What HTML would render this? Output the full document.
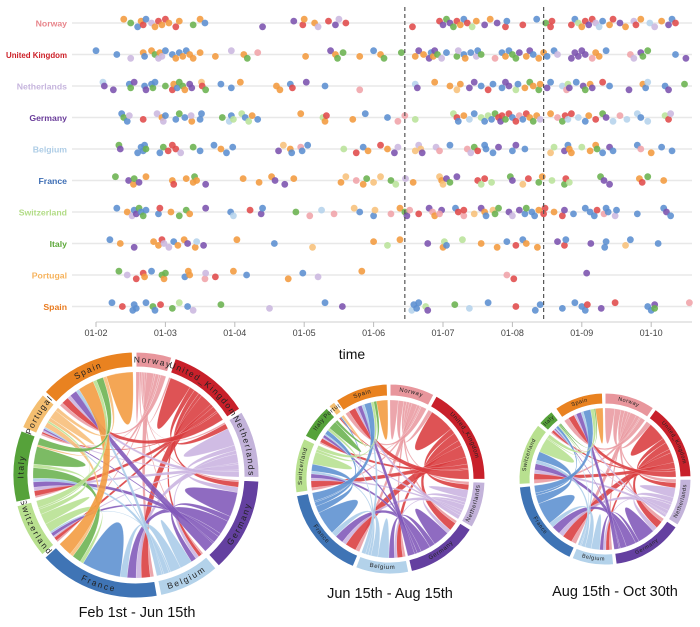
<!DOCTYPE html>
<html><head><meta charset="utf-8">
<style>
html,body{margin:0;padding:0;background:#fff;}
svg{display:block;font-family:"Liberation Sans",sans-serif;}
</style></head>
<body>
<svg id="fig" width="700" height="627" viewBox="0 0 700 627">
  <g id="strip"></g>
  <g id="chords"></g>
</svg>
<script>
const NS = "http://www.w3.org/2000/svg";
const countries = ["Norway","United Kingdom","Netherlands","Germany","Belgium","France","Switzerland","Italy","Portugal","Spain"];
const ringLabels = ["Norway","United_Kingdom","Netherlands","Germany","Belgium","France","Switzerland","Italy","Portugal","Spain"];
const labelColors = ["#e8868c","#cc1f27","#c6b5dd","#6a3d9a","#aecde6","#3c6db4","#b2dc86","#5da83a","#f6b35d","#e87a1e"];
const ringColors = ["#e8969c","#c8202a","#c3b3da","#6440a0","#b3d2ea","#3f74b5","#b8e08f","#56a23a","#f4be70","#e98220"];
const ribbonColors = ["#e99aa0","#d93b3e","#c9b3e0","#7f56b8","#a8cbe8","#5b8fd0","#b6e08f","#6ab24e","#f7bd78","#f29a3e"];
const dotColors = ["#f0a3a8","#e04a4a","#cbb7df","#7b52ae","#b5d3ec","#5b8ed0","#b9e29a","#6ab24e","#f7c07a","#f29a3e"];
const tickMonths = [2,3,4,5,6,7,8,9,10];
const tickLabels = ["01-02","01-03","01-04","01-05","01-06","01-07","01-08","01-09","01-10"];
const splitMonths = [6.45, 8.45];
const norwayPts = [[2.4,9],[2.5,7],[2.6,5],[2.65,9],[2.68,1],[2.72,5],[2.8,2],[2.85,9],[2.9,1],[2.95,9],[3.0,1],[3.05,9],[3.15,1],[3.2,9],[3.4,7],[3.5,9],[3.57,5],[4.4,3],[4.85,3],[4.98,1],[5.0,9],[5.15,9],[5.2,2],[5.35,1],[5.45,3],[5.5,2],[5.6,1],[6.56,1],[6.95,1],[7.0,3],[7.05,7],[7.1,3],[7.15,7],[7.2,1],[7.25,9],[7.3,5],[7.35,1],[7.42,6],[7.48,9],[7.6,3],[7.68,9],[7.78,3],[7.9,1],[7.92,5],[8.15,1],[8.35,5],[8.48,7],[8.55,1],[8.57,1],[8.85,1],[8.9,5],[8.95,6],[9.0,9],[9.05,1],[9.1,3],[9.15,1],[9.2,2],[9.25,4],[9.3,5],[9.4,9],[9.45,1],[9.55,3],[9.63,9],[9.75,2],[9.78,1],[9.85,9],[9.98,4],[10.05,2],[10.15,9],[10.25,3],[10.3,5],[10.35,1]];
const ukPts = [[2.0,5],[2.3,5],[2.5,2],[2.68,9],[2.7,5],[2.8,9],[2.85,7],[2.9,2],[2.92,9],[2.95,2],[3.0,5],[3.1,5],[3.15,9],[3.2,5],[3.25,9],[3.3,5],[3.35,9],[3.4,9],[3.5,9],[3.72,9],[3.95,2],[4.13,9],[4.18,7],[4.33,0],[5.02,9],[5.38,3],[5.45,9],[5.48,7],[5.56,7],[5.8,9],[6.0,5],[6.1,9],[6.15,7],[6.4,7],[6.6,9],[6.65,3],[6.72,9],[6.8,3],[6.83,5],[6.86,9],[6.88,3],[6.92,7],[6.98,2],[7.05,5],[7.2,7],[7.22,2],[7.3,5],[7.32,9],[7.4,5],[7.48,2],[7.5,5],[7.55,7],[7.75,0],[7.85,5],[7.9,9],[7.95,5],[8.0,7],[8.05,7],[8.1,3],[8.2,9],[8.25,3],[8.3,5],[8.38,9],[8.45,9],[8.5,5],[8.6,5],[8.65,2],[8.85,3],[8.9,3],[8.95,3],[9.0,3],[9.05,3],[9.15,0],[9.2,9],[9.25,9],[9.35,5],[9.7,0],[9.75,2],[9.85,3],[9.88,7],[9.95,7],[10.35,5],[10.5,3]];
const nlPts = [[2.1,4],[2.12,3],[2.25,3],[2.48,5],[2.5,7],[2.55,3],[2.7,5],[2.72,3],[2.8,5],[2.82,7],[2.85,5],[3.0,7],[3.1,1],[3.12,9],[3.17,5],[3.2,7],[3.25,7],[3.28,9],[3.35,3],[3.38,3],[3.52,8],[3.53,1],[3.58,7],[3.8,5],[3.95,5],[4.08,9],[4.6,9],[4.65,9],[4.8,5],[4.83,1],[5.03,3],[5.3,5],[5.8,0],[6.6,4],[6.63,3],[6.88,9],[7.1,9],[7.2,8],[7.25,9],[7.38,3],[7.45,3],[7.55,5],[7.65,1],[7.72,5],[7.85,5],[7.9,3],[7.95,3],[8.05,6],[8.08,5],[8.18,9],[8.25,7],[8.3,9],[8.38,7],[8.4,9],[8.5,3],[8.55,5],[8.72,4],[8.78,0],[8.8,6],[8.82,3],[8.92,5],[9.02,3],[9.05,7],[9.12,9],[9.15,3],[9.3,1],[9.4,5],[9.68,3],[9.88,9],[9.92,5],[9.95,4],[10.2,5],[10.25,3],[10.48,7]];
const dePts = [[2.37,5],[2.4,7],[2.45,5],[2.48,2],[2.68,1],[2.88,2],[2.95,9],[2.97,2],[3.0,5],[3.15,5],[3.2,7],[3.28,5],[3.38,9],[3.37,2],[3.5,5],[3.52,5],[3.82,7],[3.92,4],[3.95,5],[3.98,6],[4.1,6],[4.15,5],[4.2,6],[4.25,9],[4.33,5],[4.95,9],[5.27,6],[5.3,9],[5.32,1],[5.7,9],[5.88,5],[6.2,5],[6.35,0],[6.45,0],[6.6,6],[7.15,6],[7.2,1],[7.22,5],[7.3,9],[7.38,4],[7.45,5],[7.55,6],[7.6,5],[7.65,6],[7.7,5],[7.75,7],[7.8,1],[7.83,3],[7.85,1],[7.9,7],[7.95,1],[8.0,5],[8.05,1],[8.1,0],[8.15,5],[8.2,1],[8.25,9],[8.3,7],[8.35,9],[8.4,2],[8.55,9],[8.65,0],[8.72,7],[8.76,1],[8.8,4],[8.85,1],[8.95,4],[9.05,5],[9.1,9],[9.2,1],[9.3,7],[9.35,3],[9.45,4],[9.55,0],[9.65,4],[9.8,4],[9.85,5],[9.95,4],[10.2,6],[10.25,1],[10.28,2]];
const bePts = [[2.33,7],[2.35,3],[2.6,5],[2.65,5],[2.68,5],[2.7,5],[2.72,7],[2.92,5],[2.97,7],[3.04,1],[3.1,1],[3.15,1],[3.22,2],[3.4,7],[3.5,5],[3.7,5],[3.8,9],[3.88,5],[3.97,5],[4.63,3],[4.7,8],[4.8,9],[4.82,5],[4.95,0],[4.97,5],[5.05,5],[5.57,6],[5.75,1],[5.85,5],[5.92,9],[6.1,1],[6.2,9],[6.3,3],[6.35,2],[6.6,8],[6.65,2],[6.68,8],[6.7,3],[6.9,2],[6.95,0],[7.1,5],[7.35,0],[7.4,2],[7.45,7],[7.5,1],[7.6,5],[7.62,5],[7.72,5],[7.8,3],[8.0,5],[8.05,3],[8.18,5],[8.55,8],[8.6,6],[8.75,3],[8.8,5],[8.82,9],[8.85,9],[9.0,6],[9.12,9],[9.2,9],[9.22,7],[9.3,5],[9.4,3],[9.45,5],[9.8,5],[9.85,0],[10.0,9],[10.15,5],[10.3,5]];
const frPts = [[2.28,7],[2.47,3],[2.54,9],[2.55,7],[2.62,3],[2.72,9],[3.1,9],[3.12,1],[3.3,9],[3.4,9],[3.42,7],[3.45,9],[3.58,3],[4.12,9],[4.35,9],[4.53,9],[4.58,3],[4.72,3],[4.85,9],[5.53,9],[5.6,8],[5.75,0],[5.85,9],[5.9,7],[6.0,8],[6.1,8],[6.25,7],[6.32,6],[6.46,2],[6.57,9],[6.95,8],[6.98,9],[7.0,8],[7.05,3],[7.1,7],[7.2,3],[7.5,1],[7.55,6],[7.6,1],[7.7,6],[7.97,7],[8.0,3],[8.15,8],[8.23,1],[8.38,7],[8.43,9],[8.57,6],[8.75,7],[8.77,1],[8.82,6],[9.27,7],[9.32,3],[9.4,3],[9.83,9],[9.87,1],[9.95,7],[10.18,9]];
const chPts = [[2.3,5],[2.45,9],[2.52,2],[2.55,5],[2.58,3],[2.62,7],[2.65,5],[2.68,7],[2.72,5],[2.9,5],[2.92,1],[3.08,9],[3.2,7],[3.3,7],[3.35,9],[3.58,3],[3.94,5],[3.98,4],[4.22,1],[4.38,3],[4.4,5],[4.88,7],[5.08,0],[5.25,4],[5.43,0],[5.72,8],[5.8,5],[6.0,5],[6.02,8],[6.25,0],[6.38,9],[6.45,7],[6.48,3],[6.52,0],[6.65,1],[6.8,3],[6.85,0],[6.88,9],[6.98,3],[6.95,0],[7.18,5],[7.22,1],[7.3,0],[7.3,1],[7.45,8],[7.55,3],[7.6,9],[7.62,5],[7.72,8],[7.75,7],[7.8,7],[7.95,3],[8.0,2],[8.1,3],[8.18,5],[8.2,7],[8.28,5],[8.32,5],[8.38,9],[8.45,1],[8.47,1],[8.6,9],[8.72,1],[8.75,3],[8.88,5],[9.05,5],[9.12,5],[9.18,5],[9.22,1],[9.32,0],[9.35,5],[9.38,5],[9.48,2],[9.5,5],[9.8,5],[10.18,5],[10.22,3],[10.28,5]];
const itPts = [[2.2,5],[2.35,9],[2.55,3],[2.83,9],[2.9,9],[2.95,1],[2.98,2],[3.05,2],[3.12,5],[3.18,9],[3.27,9],[3.32,3],[3.43,9],[3.45,4],[3.55,3],[4.03,9],[4.57,5],[5.12,8],[6.0,9],[6.2,6],[6.38,9],[6.78,3],[7.0,9],[7.02,6],[7.05,5],[7.28,6],[7.55,9],[7.78,9],[7.92,5],[8.05,1],[8.15,5],[8.2,9],[8.36,9],[8.65,3],[8.75,1],[8.77,5],[9.13,3],[9.33,5],[9.35,5],[9.63,8],[9.7,5],[10.1,5]];
const ptPts = [[2.33,7],[2.45,2],[2.58,1],[2.68,1],[2.7,9],[2.8,5],[2.95,7],[2.98,9],[3.0,7],[3.28,5],[3.33,9],[3.35,9],[3.57,0],[3.58,2],[3.72,1],[3.98,9],[4.17,5],[4.77,9],[4.98,5],[5.2,2],[5.83,9],[7.92,0],[8.02,1],[9.07,3]];
const esPts = [[2.23,5],[2.38,1],[2.53,5],[2.55,5],[2.58,5],[2.72,5],[2.82,7],[2.85,5],[2.93,1],[3.1,7],[3.2,6],[3.32,5],[3.4,2],[3.8,7],[4.5,2],[5.3,5],[5.55,3],[6.55,4],[6.58,5],[6.62,5],[6.65,5],[6.75,6],[6.78,3],[7.17,7],[7.38,4],[7.65,5],[8.05,1],[8.33,5],[8.4,5],[8.72,5],[8.9,5],[9.0,5],[9.05,5],[9.08,1],[9.28,3],[9.48,1],[9.95,5],[10.0,5],[10.05,3],[10.05,7],[10.55,0]];
const rowPoints = [norwayPts,ukPts,nlPts,dePts,bePts,frPts,chPts,itPts,ptPts,esPts];

const matrixFebJun = [
[2,1,1,1,1,4,1,2,1,3],[1,12,3,3,2,7,2,3,1,5],[1,3,10,3,2,5,1,3,1,3],[1,3,3,14,3,8,2,4,1,6],[1,2,2,3,7,6,1,3,1,3],
[2,5,3,5,4,22,2,5,2,8],[1,2,1,2,1,5,6,3,1,4],[1,3,2,3,2,6,2,10,1,4],[1,1,1,1,1,3,1,2,5,2],[2,4,2,4,2,9,2,4,2,15]];
const matrixJunAug = [
[6,4,2,2,2,4,2,1,0,4],[3,18,4,6,4,9,5,3,1,7],[2,4,6,3,2,4,2,2,0,3],[2,6,3,12,4,7,3,2,0,5],[2,4,2,4,8,5,2,2,0,3],
[3,8,3,6,4,17,5,3,1,6],[2,5,2,3,2,5,9,2,0,3],[1,3,1,2,1,3,2,6,0,2],[0,1,0,0,0,1,0,0,2,0],[3,5,2,3,2,5,2,2,0,8]];
const matrixAugOct = [
[8,5,3,3,2,5,3,1,0,4],[4,15,4,6,3,8,5,2,0,5],[3,4,8,4,2,5,3,1,0,2],[3,6,4,14,3,8,5,1,0,4],[2,3,2,3,7,5,3,1,0,2],
[4,8,4,7,4,18,7,2,0,6],[3,5,3,5,3,7,12,1,0,3],[1,2,1,1,1,2,1,1,0,1],[0,0,0,0,0,0,0,0,0,0],[4,5,2,4,2,6,3,1,0,6]];
const chordTitles = ["Feb 1st - Jun 15th","Jun 15th - Aug 15th","Aug 15th - Oct 30th"];

function el(tag, attrs, parent){const e=document.createElementNS(NS,tag);for(const k in attrs)e.setAttribute(k,attrs[k]);parent.appendChild(e);return e;}

const strip = document.getElementById('strip');
const rowY0 = 23, rowStep = 31.5;
const xScale = m => 96 + (m-2)*69.4;
const yScale = i => rowY0 + i*rowStep;
countries.forEach((c,i)=>{
  const g = el('line',{x1:72,x2:692,y1:yScale(i),y2:yScale(i),stroke:'#e8e8e8','stroke-width':1.5},strip);
  
  
  const t = el('text',{x:67,y:yScale(i)+3.5,'text-anchor':'end','font-size':8.7,'font-weight':'bold',fill:labelColors[i]},strip);
  t.textContent = c;
  
  
  if (t.getComputedTextLength() > 61) { t.setAttribute('textLength', 61); t.setAttribute('lengthAdjust','spacingAndGlyphs'); }
});
const ax = el('line',{x1:96,x2:692,y1:322,y2:322,stroke:'#cfcfcf','stroke-width':1},strip);


tickMonths.forEach((m,k)=>{
  const tk = el('line',{x1:xScale(m),x2:xScale(m),y1:322,y2:327,stroke:'#bbb'},strip);
  
  
  const tl = el('text',{x:xScale(m),y:336,'text-anchor':'middle','font-size':9,fill:'#444'},strip);
  tl.textContent = tickLabels[k];
  
  
});
const xt = el('text',{x:352,y:359,'text-anchor':'middle','font-size':14,fill:'#111'},strip);
xt.textContent='time';


rowPoints.forEach((pts,i)=>{
  pts.forEach((p,k)=>{
    const j = ((k*7)%5 - 2)*1.9;
    const d = el('circle',{cx:xScale(p[0]),cy:yScale(i)+j,r:3.4,fill:dotColors[p[1]],'fill-opacity':0.88},strip);
    
    
  });
});
splitMonths.forEach(m=>{
  const dl = el('line',{x1:xScale(m),x2:xScale(m),y1:7,y2:322,stroke:'#555','stroke-width':1.2,'stroke-dasharray':'4,3'},strip);
  
  
});

const chordsG = document.getElementById('chords');
function pt(r,a){return [r*Math.sin(a), -r*Math.cos(a)];}
function drawChord(matrix, cx, cy, R, thick, gap, fs, ls, title, titleX, titleY, name){
  const g = el('g',{transform:`translate(${cx},${cy})`},chordsG);
  
  
  const n = matrix.length, pad = 0.03;
  const sums = matrix.map(r=>r.reduce((a,b)=>a+b,0));
  const total = sums.reduce((a,b)=>a+b,0);
  const k = (2*Math.PI - n*pad)/total;
  const groups=[], sub=[];
  let a = 0;
  for(let i=0;i<n;i++){
    const a0=a; sub[i]=[];
    for(let j=0;j<n;j++){const w=matrix[i][j]*k; sub[i][j]=[a,a+w]; a+=w;}
    groups.push([a0,a]); a+=pad;
  }
  const r = R - thick - gap;
  for(let i=0;i<n;i++) for(let j=i;j<n;j++){
    if(matrix[i][j]===0 && matrix[j][i]===0) continue;
    const s=sub[i][j], t=sub[j][i];
    const p0=pt(r,s[0]),p1=pt(r,s[1]),q0=pt(r,t[0]),q1=pt(r,t[1]);
    const ls1=(s[1]-s[0])>Math.PI?1:0, lt=(t[1]-t[0])>Math.PI?1:0;
    let d;
    if(i===j){ d=`M${p0}A${r},${r} 0 ${ls1} 1 ${p1}Q0,0 ${p0}Z`; }
    else d=`M${p0}A${r},${r} 0 ${ls1} 1 ${p1}Q0,0 ${q0}A${r},${r} 0 ${lt} 1 ${q1}Q0,0 ${p0}Z`;
    const ci = matrix[i][j]>=matrix[j][i]?i:j;
    const rb = el('path',{d:d,fill:ribbonColors[ci],'fill-opacity':0.88,stroke:'#fff','stroke-width':0.3,'stroke-opacity':0.6},g);
    
    
  }
  groups.forEach((gr,i)=>{
    if(gr[1]-gr[0]<0.001) return;
    const ro=R, ri=R-thick;
    const o0=pt(ro,gr[0]),o1=pt(ro,gr[1]),i1=pt(ri,gr[1]),i0=pt(ri,gr[0]);
    const lf=(gr[1]-gr[0])>Math.PI?1:0;
    const arc = el('path',{d:`M${o0}A${ro},${ro} 0 ${lf} 1 ${o1}L${i1}A${ri},${ri} 0 ${lf} 0 ${i0}Z`,fill:ringColors[i],stroke:'#fff','stroke-width':1},g);
    
    
    const mid=(gr[0]+gr[1])/2, rl=R-thick/2;
    const flip = mid>Math.PI/2 && mid<3*Math.PI/2;
    const ext = 0.4;
    let pd;
    if(!flip){const s=pt(rl,gr[0]-ext),e=pt(rl,gr[1]+ext);pd=`M${s}A${rl},${rl} 0 0 1 ${e}`;}
    else{const s=pt(rl,gr[1]+ext),e=pt(rl,gr[0]-ext);pd=`M${s}A${rl},${rl} 0 0 0 ${e}`;}
    const id=name+'-lp'+i;
    el('path',{id:id,d:pd,fill:'none'},g);
    const tx = el('text',{'font-size':fs,'letter-spacing':ls,fill:'#222','dominant-baseline':'central'},g);
    
    
    const tp = el('textPath',{href:'#'+id,startOffset:'50%','text-anchor':'middle'},tx);
    tp.textContent = ringLabels[i];
  });
  const tt = el('text',{x:titleX,y:titleY,'text-anchor':'middle','font-size':14.5,fill:'#111'},chordsG);
  tt.textContent = title;
  
  
}
drawChord(matrixFebJun,136,475,123,15,5,8.5,1.6,chordTitles[0],137,617,'chord-feb-jun');
drawChord(matrixJunAug,390,479,95,12,4,6,0.6,chordTitles[1],390,598,'chord-jun-aug');
drawChord(matrixAugOct,605,479,86,11,4,5.5,0.5,chordTitles[2],615,596,'chord-aug-oct');
</script>
</body></html>
